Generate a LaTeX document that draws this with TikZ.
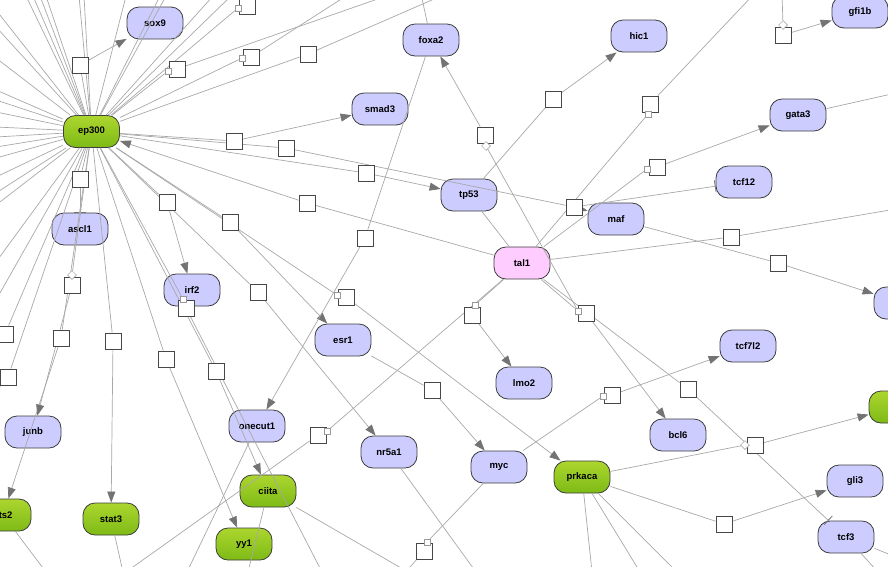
\documentclass[tikz,border=0pt]{standalone}
\usepackage{fontspec}
\setmainfont{Liberation Sans}
\usetikzlibrary{arrows.meta,shapes.geometric}
\definecolor{nodeblue}{RGB}{204,204,255}
\definecolor{pinkfill}{RGB}{255,204,255}
\definecolor{gtop}{RGB}{172,214,46}
\definecolor{gbot}{RGB}{126,186,22}
\definecolor{nborder}{RGB}{60,60,60}
\definecolor{edgegray}{RGB}{168,168,168}
\definecolor{tipgray}{RGB}{115,115,115}
\pgfdeclarelayer{bg}
\pgfdeclarelayer{fg}
\pgfsetlayers{bg,main,fg}
\begin{document}
\begin{tikzpicture}[x=1pt,y=-1pt,
  nodebase/.style={rectangle, rounded corners=12pt, minimum width=56pt, minimum height=32pt,
     draw=nborder, line width=0.8pt, inner sep=0pt, font=\fontsize{9.5}{10}\selectfont\bfseries},
  bn/.style={nodebase, fill=nodeblue},
  gn/.style={nodebase, top color=gtop, bottom color=gbot},
  pn/.style={nodebase, fill=pinkfill},
  rsq/.style={rectangle, draw=black!72, fill=white, minimum size=16pt, inner sep=0pt, line width=0.8pt},
  tsq/.style={rectangle, draw=black!40, fill=white, minimum size=6pt, inner sep=0pt, line width=0.5pt},
  tdia/.style={diamond, draw=black!40, fill=white, minimum size=9pt, inner sep=0pt, line width=0.5pt},
  ln/.style={draw=edgegray, line width=0.7pt},
  arr/.style={ln, -{Triangle[length=11pt,width=8pt,color=tipgray]}},
  inh/.style={ln, -{Bar[width=12pt,line width=0.8pt,color=tipgray]}}
]
\useasboundingbox (0,0) rectangle (888,566);
\clip (0,0) rectangle (888,566);

% ---------- gene nodes ----------
\begin{pgfonlayer}{bg}
\clip (0,0) rectangle (888,566);
\node[bn] (sox9) at (155,23) {sox9};
\node[gn] (ep300) at (91.5,131.5) {ep300};
\node[bn] (foxa2) at (431,40) {foxa2};
\node[bn] (smad3) at (380,109) {smad3};
\node[bn] (tp53) at (469,195) {tp53};
\node[bn] (hic1) at (639,36) {hic1};
\node[bn] (gfi1b) at (860,12) {gfi1b};
\node[bn] (gata3) at (798,115) {gata3};
\node[bn] (tcf12) at (744,182) {tcf12};
\node[bn] (maf) at (616,219) {maf};
\node[pn] (tal1) at (522,263) {tal1};
\node[bn] (ascl1) at (80,229) {ascl1};
\node[bn] (irf2) at (192,290) {irf2};
\node[bn] (esr1) at (343,340) {esr1};
\node[bn] (lmo2) at (524,383) {lmo2};
\node[bn] (tcf7l2) at (748,346) {tcf7l2};
\node[bn] (rightb) at (902,303) {};
\node[bn] (junb) at (33,432) {junb};
\node[gn] (ets2) at (3,515) {ets2};
\node[gn] (stat3) at (111,519) {stat3};
\node[bn] (onecut1) at (257,426) {onecut1};
\node[gn] (ciita) at (268,491) {ciita};
\node[gn] (yy1) at (244,544) {yy1};
\node[bn] (nr5a1) at (389,452) {nr5a1};
\node[bn] (myc) at (499,467) {myc};
\node[gn] (prkaca) at (582,477) {prkaca};
\node[bn] (bcl6) at (678,435) {bcl6};
\node[gn] (rightg) at (897,407) {};
\node[bn] (gli3) at (855,481) {gli3};
\node[bn] (tcf3) at (846,537) {tcf3};
\end{pgfonlayer}

% ---------- reaction squares ----------
\begin{pgfonlayer}{fg}
\clip (0,0) rectangle (888,566);
\node[rsq] (sA) at (80,65) {};
\node[rsq] (sB) at (177,69) {}; \node[tsq] (sBt) at (168,71) {};
\node[rsq] (sC) at (251,57) {}; \node[tsq] (sCt) at (242,58) {};
\node[rsq] (sD) at (308,54) {};
\node[rsq] (sE) at (247,6) {};  \node[tsq] (sEt) at (238,8) {};
\node[rsq] (sF) at (234,141) {};
\node[rsq] (sG) at (286,148) {};
\node[rsq] (sH) at (366,173) {};
\node[rsq] (sM) at (574,207) {};
\node[rsq] (sI) at (307,203) {};
\node[rsq] (sJ) at (80,179) {};
\node[rsq] (sK) at (167,202) {};
\node[rsq] (sL) at (230,222) {};
\node[rsq] (sN) at (258,292) {};
\node[rsq] (sO) at (346,297) {}; \node[tsq] (sOt) at (337,295) {};
\node[rsq] (sP) at (186,308) {}; \node[tsq] (sPt) at (183,299) {};
\node[rsq] (sQ) at (216,371) {};
\node[rsq] (sR) at (166,359) {};
\node[rsq] (sS) at (113,341) {};
\node[rsq] (sT) at (61,338) {};
\node[rsq] (sU) at (72,285) {}; \node[tdia] (sUd) at (72,275) {};
\node[rsq] (sV) at (5,334) {};
\node[rsq] (sW) at (8,377) {};
\node[rsq] (sX) at (365,238) {};
\node[rsq] (sY) at (485,135) {}; \node[tdia] (sYd) at (486,146) {};
\node[rsq] (sZ) at (586,313) {}; \node[tsq] (sZt) at (578,311) {};
\node[rsq] (q1) at (553,99) {};
\node[rsq] (q2) at (650,104) {}; \node[tsq] (q2t) at (648,114) {};
\node[rsq] (q3) at (657,167) {}; \node[tsq] (q3t) at (647,169) {};
\node[rsq] (q4) at (731,237) {};
\node[rsq] (q5) at (778,263) {};
\node[rsq] (q6) at (783,35) {};  \node[tdia] (q6d) at (783,25) {};
\node[rsq] (q7) at (472,315) {}; \node[tsq] (q7t) at (475,305) {};
\node[rsq] (q8) at (318,435) {}; \node[tsq] (q8t) at (327,431) {};
\node[rsq] (q9) at (432,390) {};
\node[rsq] (q10) at (612,395) {}; \node[tsq] (q10t) at (603,396) {};
\node[rsq] (q11) at (688,389) {};
\node[rsq] (q12) at (755,445) {}; \node[tdia] (q12d) at (745,445) {};
\node[rsq] (q13) at (724,524) {};
\node[rsq] (q14) at (424,551) {}; \node[tsq] (q14t) at (427,542) {};
\end{pgfonlayer}

% ---------- free ends outside the frame ----------
\coordinate (oB) at (392,-6);
\coordinate (oC) at (346,-4);
\coordinate (oD) at (441,-4);
\coordinate (oE) at (262,-6);
\coordinate (oP) at (322,572);
\coordinate (oV) at (-10,352);
\coordinate (oW) at (-10,398);
\coordinate (o2) at (754,-6);
\coordinate (o4) at (896,209);
\coordinate (o6) at (782,-6);
\coordinate (o8) at (126,572);
\coordinate (o14) at (404,574);
\coordinate (ogata) at (896,93);
\coordinate (ofox) at (421,-6);
\coordinate (onr) at (476,572);
\coordinate (opk1) at (592,572);
\coordinate (opk2) at (640,572);
\coordinate (opk3) at (677,572);
\coordinate (otc1) at (878,572);
\coordinate (otc2) at (896,557);
\coordinate (ooc) at (187,572);
\coordinate (oci1) at (248,572);
\coordinate (oci2) at (408,572);
\coordinate (ost) at (123,572);
\coordinate (oet) at (46,572);

% ---------- ep300 rays leaving the frame ----------
\foreach \px/\py [count=\i] in {26/-4,33/-4,40/-4,46/-4,79/-4,84/-4,126/-4,160/-4,166/-4,213/-4,231/-4,
   -4/10,-4/27,-4/58,-4/90,-4/100,-4/112,-4/127,-4/137,-4/147,-4/158,-4/177,-4/193,-4/205,-4/262,-4/300}{
  \coordinate (ray\i) at (\px,\py);
  \draw[ln] (ep300) -- (ray\i);
}

% ---------- ep300 reactions ----------
\draw[ln] (ep300) -- (sA);  \draw[arr] (sA) -- (sox9);
\draw[ln] (ep300) -- (sBt); \draw[ln] (sB) -- (oB);
\draw[ln] (ep300) -- (sCt); \draw[ln] (sC) -- (oC);
\draw[ln] (ep300) -- (sD);  \draw[ln] (sD) -- (oD);
\draw[ln] (ep300) -- (sEt); \draw[ln] (sE) -- (oE);
\draw[ln] (ep300) -- (sF);  \draw[arr] (sF) -- (smad3);
\draw[ln] (ep300) -- (sG);  \draw[ln] (sG) -- (sM);
\draw[ln] (ep300) -- (sH);  \draw[arr] (sH) -- (tp53);
\draw[arr] (sM) -- (maf);   \draw[inh] (sM) -- (tcf12);
\draw[ln] (tal1) -- (sI);   \draw[arr] (sI) -- (ep300);
\draw[ln] (ep300) -- (sJ);  \draw[inh] (sJ) -- (ascl1);
\draw[ln] (ep300) -- (sK);  \draw[arr] (sK) -- (irf2);
\draw[ln] (ep300) -- (sL);  \draw[arr] (sL) -- (esr1);
\draw[ln] (ep300) -- (sN);  \draw[arr] (sN) -- (nr5a1);
\draw[ln] (ep300) -- (sOt); \draw[arr] (sO) -- (prkaca);
\draw[ln] (ep300) -- (sPt); \draw[ln] (sP) -- (oP);
\draw[ln] (ep300) -- (sQ);  \draw[arr] (sQ) -- (ciita);
\draw[ln] (ep300) -- (sR);  \draw[arr] (sR) -- (yy1);
\draw[ln] (ep300) -- (sS);  \draw[arr] (sS) -- (stat3);
\draw[ln] (ep300) -- (sT);  \draw[arr] (sT) -- (ets2);
\draw[ln] (ep300) -- (sUd); \draw[arr] (sU) -- (junb);
\draw[ln] (ep300) -- (sV);  \draw[ln] (sV) -- (oV);
\draw[ln] (ep300) -- (sW);  \draw[ln] (sW) -- (oW);

% ---------- other reactions ----------
\draw[ln] (foxa2) -- (sX);  \draw[arr] (sX) -- (onecut1);
\draw[ln] (sYd) -- (sZt);   \draw[arr] (sY) -- (foxa2);
\draw[ln] (tal1) -- (sZt);  \draw[arr] (sZ) -- (bcl6);
\draw[ln] (tp53) -- (q1);   \draw[arr] (q1) -- (hic1);
\draw[ln] (tal1) -- (q2t);  \draw[ln] (q2) -- (o2);
\draw[ln] (tal1) -- (q3t);  \draw[arr] (q3) -- (gata3);
\draw[ln] (tal1) -- (q4);   \draw[ln] (q4) -- (o4);
\draw[ln] (maf) -- (q5);    \draw[arr] (q5) -- (rightb);
\draw[ln] (o6) -- (q6d);    \draw[arr] (q6) -- (gfi1b);
\draw[ln] (tal1) -- (q7t);  \draw[arr] (q7) -- (lmo2);
\draw[ln] (tal1) -- (q8t);  \draw[ln] (q8) -- (o8);
\draw[ln] (esr1) -- (q9);   \draw[arr] (q9) -- (myc);
\draw[ln] (myc) -- (q10t);  \draw[arr] (q10) -- (tcf7l2);
\draw[ln] (tal1) -- (q11);  \draw[inh] (q11) -- (tcf3);
\draw[ln] (prkaca) -- (q12d); \draw[arr] (q12) -- (rightg);
\draw[ln] (prkaca) -- (q13); \draw[arr] (q13) -- (gli3);
\draw[ln] (myc) -- (q14t);  \draw[ln] (q14) -- (o14);

% ---------- plain links ----------
\draw[ln] (tp53) -- (tal1);
\draw[ln] (gata3) -- (ogata);
\draw[ln] (ofox) -- (foxa2);
\draw[ln] (nr5a1) -- (onr);
\draw[ln] (prkaca) -- (opk1);
\draw[ln] (prkaca) -- (opk2);
\draw[ln] (prkaca) -- (opk3);
\draw[ln] (tcf3) -- (otc1);
\draw[ln] (tcf3) -- (otc2);
\draw[ln] (onecut1) -- (ooc);
\draw[ln] (ciita) -- (oci1);
\draw[ln] (ciita) -- (oci2);
\draw[ln] (stat3) -- (ost);
\draw[ln] (ets2) -- (oet);
\end{tikzpicture}
\end{document}
